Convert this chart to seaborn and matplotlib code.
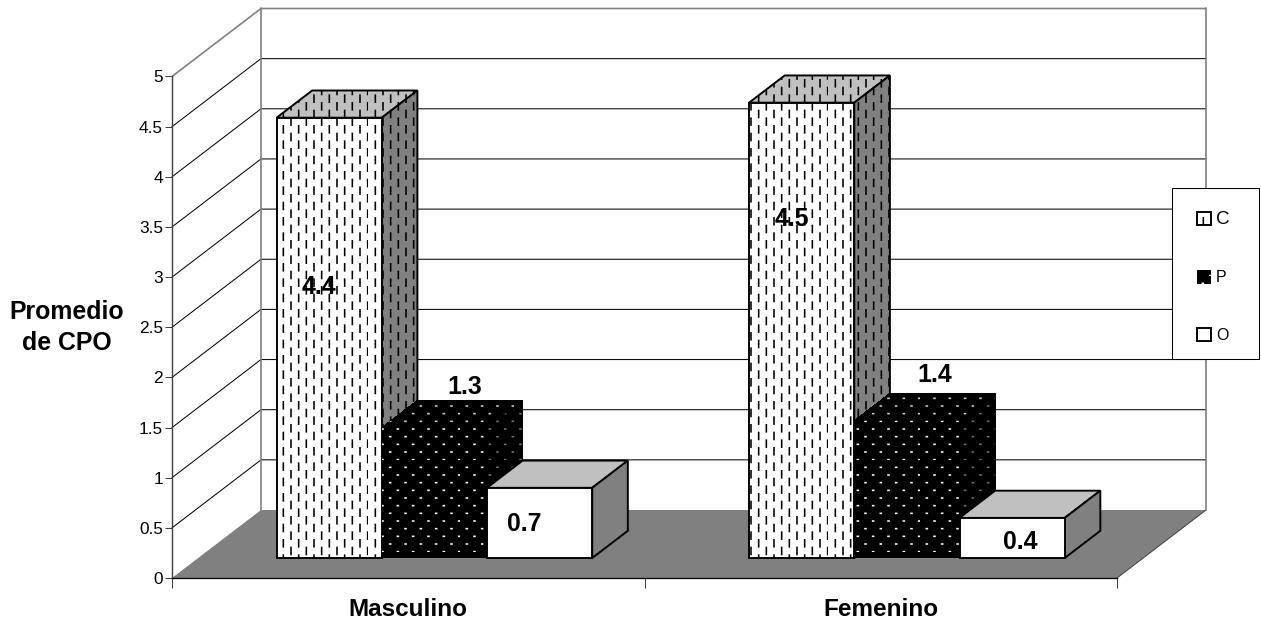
import numpy as np
import pandas as pd
import matplotlib
matplotlib.use("Agg")
import matplotlib.pyplot as plt
import matplotlib.hatch as mhatch
from matplotlib.patches import Polygon, Rectangle
from matplotlib.path import Path
import seaborn as sns

# data
sexos = ["Masculino", "Femenino"]
tipos = ["C", "P", "O"]
valores_c = [4.39, 4.54]
valores_p = [1.30, 1.37]
valores_o = [0.70, 0.40]
y_ticks = [0, 0.5, 1, 1.5, 2, 2.5, 3, 3.5, 4, 4.5, 5]

df = pd.DataFrame({
    "sexo": sexos * 3,
    "tipo": [t for t in tipos for _ in sexos],
    "valor": valores_c + valores_p + valores_o,
})

TILE = 92.0  # one hatch tile is one inch, so dpi pixels


# the old Excel fill patterns: staggered dashes and staggered dots
class DashHatch(mhatch.HatchPatternBase):
    def __init__(self, hatch, density):
        self.on = hatch.count("|") > 0
        self.num_vertices = 12 * 6 * 2 * 2 if self.on else 0

    def set_vertices_and_codes(self, vertices, codes):
        i = 0
        for col in range(12):
            for row in range(6):
                x = ((col + 0.5) / 12 + 3.5 / TILE) % 1
                y = ((row + 0.5 * (col % 2)) / 6 + 5.2 / TILE) % 1
                # drawn twice so a dash over the tile edge wraps round
                for wrap in (0, -1):
                    vertices[i] = (x, y + wrap)
                    vertices[i + 1] = (x, y + wrap + 7.0 / TILE)
                    codes[i] = Path.MOVETO
                    codes[i + 1] = Path.LINETO
                    i += 2


class DotHatch(mhatch.HatchPatternBase):
    def __init__(self, hatch, density):
        self.on = hatch.count(".") > 0
        self.num_vertices = 6 * 12 * 2 if self.on else 0

    def set_vertices_and_codes(self, vertices, codes):
        i = 0
        for col in range(6):
            for row in range(12):
                x = ((col + 0.5 * (row % 2)) / 6 + 14.0 / TILE) % 1
                y = ((row + 0.5) / 12 - 3.5 / TILE) % 1
                vertices[i] = (x, y)
                vertices[i + 1] = (x + 1.0 / TILE, y)
                codes[i] = Path.MOVETO
                codes[i + 1] = Path.LINETO
                i += 2


mhatch._hatch_types[:] = [DashHatch, DotHatch]

sns.set_style("white")
plt.rcParams["font.family"] = ["Liberation Sans", "DejaVu Sans"]
plt.rcParams["hatch.linewidth"] = 1.25
plt.rcParams["text.color"] = "black"
plt.rcParams["axes.labelcolor"] = "black"
plt.rcParams["xtick.color"] = "black"
plt.rcParams["ytick.color"] = "black"

W, H = 1261, 621
fig = plt.figure(figsize=(W / 92, H / 92), dpi=92)
ax = fig.add_axes([172 / W, (H - 578) / H, 945 / W, 501.5 / H])

palette = {"C": "white", "P": "black", "O": "white"}
sns.barplot(data=df, x="sexo", y="valor", hue="tipo", hue_order=tipos,
            palette=palette, saturation=1, width=0.668, gap=0, legend=False, ax=ax)
ax.set_xlim(-0.5, 1.5)
ax.set_ylim(0, 5)
ax.patch.set_visible(False)

# depth of the 3D box in data units
DX = 89 / (945 / 2)
DY = 68 / 100.3
BAR_FRONT = 0.294
BAR_DEPTH = 0.40

GRIS = "#808080"
GRIS_CLARO = "#c0c0c0"

# floor and walls
ax.add_patch(Polygon([(-0.5, 0), (1.5, 0), (1.5 + DX, DY), (-0.5 + DX, DY)],
                     closed=True, fc=GRIS, ec="none", clip_on=False, zorder=1))
for v in y_ticks[1:]:
    color = GRIS if v == 5 else "black"
    lw = 1.3 if v == 5 else 0.8
    ax.plot([-0.5, -0.5 + DX, 1.5 + DX], [v, v + DY, v + DY],
            color=color, lw=lw, clip_on=False, zorder=1.5)
ax.plot([-0.5 + DX] * 2, [DY, 5 + DY], color=GRIS, lw=1.3, clip_on=False, zorder=1.6)
ax.plot([1.5 + DX] * 2, [DY, 5 + DY], color=GRIS, lw=1.3, clip_on=False, zorder=1.6)
ax.plot([1.5, 1.5 + DX], [0, DY], color="#404040", lw=0.8, clip_on=False, zorder=1.6)

# face styles per series: front, top, side
estilos = {
    "C": dict(hatch="|", lw=1.5, edge="black", top_h="black", side_h="black",
              top=GRIS_CLARO, side=GRIS),
    "P": dict(hatch=".", lw=0, edge="white", top_h="#d0d0d0", side_h="#707070",
              top="black", side="black"),
    "O": dict(hatch=None, lw=1.5, edge="black", top_h="black", side_h="black",
              top=GRIS_CLARO, side=GRIS),
}

for k, (tipo, cont) in enumerate(zip(tipos, ax.containers)):
    st = estilos[tipo]
    for j, bar in enumerate(cont):
        x0 = bar.get_x() + BAR_FRONT * DX
        y0 = BAR_FRONT * DY
        w = bar.get_width()
        h = bar.get_height()
        bar.set_x(x0)
        bar.set_y(y0)
        bar.set_clip_on(False)
        bar.set_edgecolor(st["edge"])
        bar.set_linewidth(st["lw"])
        bar.set_hatch(st["hatch"])
        bar.set_zorder(5 + k * 2 + j * 10)
        if tipo == "P":
            bar.set_antialiased(False)
        ddx, ddy = BAR_DEPTH * DX, BAR_DEPTH * DY
        top = [(x0, y0 + h), (x0 + w, y0 + h), (x0 + w + ddx, y0 + h + ddy), (x0 + ddx, y0 + h + ddy)]
        side = [(x0 + w, y0), (x0 + w + ddx, y0 + ddy), (x0 + w + ddx, y0 + h + ddy), (x0 + w, y0 + h)]
        for pts, fc, hc in ((top, st["top"], st["top_h"]), (side, st["side"], st["side_h"])):
            p = Polygon(pts, closed=True, fc=fc, ec=hc, lw=st["lw"], hatch=st["hatch"],
                        clip_on=False, zorder=4.5 + k * 2 + j * 10, joinstyle="miter",
                        antialiased=tipo != "P")
            ax.add_patch(p)

# data labels, nudged in pixels from the middle of each front face
nudges = {"C": [(-10, 51), (-10, 111)], "P": [(30, 106), (28, 114)], "O": [(-15, -1), (8, -4)]}
for tipo, cont in zip(tipos, ax.containers):
    for j, bar in enumerate(cont):
        ax.annotate(f"{bar.get_height():.1f}",
                    xy=(bar.get_x() + bar.get_width() / 2, bar.get_y() + bar.get_height() / 2),
                    xytext=nudges[tipo][j], textcoords="offset pixels",
                    ha="center", va="center", fontsize=19.5, fontweight="bold",
                    color="black", zorder=60, annotation_clip=False)

# axes
sns.despine(ax=ax)
ax.spines["left"].set_color("#404040")
ax.spines["left"].set_linewidth(1.1)
ax.spines["bottom"].set_color("black")
ax.spines["bottom"].set_linewidth(1.0)
ax.spines["left"].set_zorder(3)
ax.spines["bottom"].set_zorder(3)
ax.set_yticks(y_ticks)
ax.set_yticklabels([f"{v:g}" for v in y_ticks], fontsize=13.5)
ax.tick_params(axis="y", left=True, length=5.5, width=0.8, color="#404040", pad=1.5)
ax.set_xticks([0, 1])
ax.set_xticklabels(sexos, fontsize=19, fontweight="bold")
ax.tick_params(axis="x", which="major", bottom=False, length=0, pad=15.3)
ax.set_xticks([-0.5, 0.5, 1.5], minor=True)
ax.tick_params(axis="x", which="minor", bottom=True, length=7.5, width=0.8, color="#404040")
ax.set_xlabel("")
ax.set_ylabel("Promedio\nde CPO", rotation=0, ha="center", va="center",
              fontsize=19.5, fontweight="bold", linespacing=1.35)
ax.yaxis.set_label_coords((67 - 172) / 945, 0.4995)

# legend: frame drawn apart so the entries can sit where they sit in the reference
ax.add_patch(Rectangle((1172 / W, (H - 359) / H), 87 / W, 171 / H, transform=fig.transFigure,
                       fc="white", ec="black", lw=0.8, clip_on=False, zorder=69))
leg = ax.legend(ax.containers, tipos, loc="upper left",
                bbox_to_anchor=(1197 / W, (H - 211) / H), bbox_transform=fig.transFigure,
                fontsize=12.5, frameon=False, borderaxespad=0, borderpad=0,
                handlelength=0.9, handleheight=0.9, handletextpad=0.3,
                labelspacing=2.65)
leg.set_zorder(70)
leg.get_texts()[0].set_fontsize(14.8)

fig.savefig("out.png", dpi=92)
